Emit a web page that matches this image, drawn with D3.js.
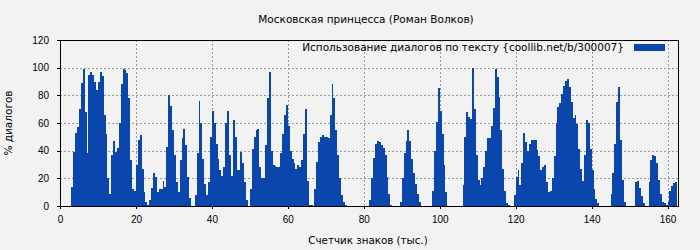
<!DOCTYPE html>
<html>
<head>
<meta charset="utf-8">
<script src="https://cdnjs.cloudflare.com/ajax/libs/d3/7.8.5/d3.min.js"></script>
<style>
body { margin: 0; background: #f2f2f2; }
svg { display: block; font-family: "DejaVu Sans", sans-serif; }
.axis path, .axis line { stroke: #000; shape-rendering: crispEdges; }
.axis text { font-size: 10px; fill: #000; }
.grid line { stroke: #9a9a9a; stroke-dasharray: 2,2; shape-rendering: crispEdges; }
.bar { fill: #0a46ac; shape-rendering: crispEdges; }
</style>
</head>
<body>
<script>
var chartTitle = "Московская принцесса (Роман Волков)";
var seriesName = "Использование диалогов по тексту {coollib.net/b/300007}";
var xTitle = "Счетчик знаков (тыс.)";
var yTitle = "% диалогов";
var xTicks = [0, 20, 40, 60, 80, 100, 120, 140, 160];
var yTicks = [0, 20, 40, 60, 80, 100, 120];

// each bar covers half a thousand characters, the first one starts at 3k
var firstK = 3;
var stepK = 0.5;
var dialogPct = [
  14, 39, 53, 57, 70, 89, 99, 68, 38, 95,
  97, 95, 90, 84, 90, 97, 94, 66, 52, 20,
  9, 37, 47, 39, 42, 60, 88, 99, 98, 96,
  78, 33, 12, 11, 30, 48, 51, 27, 10, 3,
  1, 4.5, 13, 24, 21, 10, 12, 12, 18, 14,
  43, 80, 72, 55, 37, 17, 10, 33, 49, 56,
  44, 21, 6, 0, 0, 8, 38, 76, 60, 34,
  16, 8, 17, 50, 69, 60, 45, 34, 26, 22,
  28, 60, 69, 37, 22, 62, 50, 26, 26, 39,
  31, 17, 4, 0, 12, 41, 50, 55, 56, 28,
  20, 20, 44, 78, 97, 40, 29.5, 29, 28, 28,
  38, 52, 66, 73, 58, 40, 34, 31, 27, 30,
  28, 33, 52, 70, 18, 1, 0.5, 0, 12, 32,
  46, 50, 51, 50, 50, 49, 66, 88, 78, 55,
  37, 20, 8, 3, 0.7, 0, 0, 0, 0, 0,
  0, 0, 0, 0, 0, 0, 0, 4, 20, 35,
  45, 47, 46, 44, 42, 37, 21, 9, 1, 0,
  0, 0, 0, 3, 20, 38, 47, 55, 47, 34,
  24, 16, 9, 3, 0, 0, 0, 0, 0, 0,
  11, 40, 61, 85, 69, 52, 30, 10, 0, 0,
  0, 0, 0, 0, 0, 0, 15, 50, 68, 64,
  63, 100, 70, 37, 19, 15.5, 20, 28, 40, 49,
  49.5, 58, 71, 99, 93, 79, 55, 27, 11, 2,
  0.7, 0.3, 0, 8, 21, 26, 15.5, 31, 53, 46,
  40, 44.5, 48, 47.5, 47.5, 40.5, 36, 26, 28.5, 30,
  17.5, 10, 11, 20, 36, 60, 71.5, 74.5, 81, 87,
  90.5, 92, 86, 75, 63.5, 66, 59, 41, 27, 18,
  37, 62, 60, 41, 26, 12, 5, 2, 0, 0,
  0, 0, 0, 0, 9, 24, 45, 75, 86, 48,
  19, 3, 0, 0, 0, 0, 0, 17, 18, 13,
  7, 2, 0, 0, 17, 33, 37, 36, 31, 19,
  9, 3, 2, 1, 3, 11, 14.5, 16.5, 17
];
var charK = dialogPct.map(function(d, i) { return firstK + i * stepK; });

var W = 700, H = 250;
var margin = {top: 40, right: 22, bottom: 44, left: 60};
var w = W - margin.left - margin.right,
    h = H - margin.top - margin.bottom;

var svg = d3.select("body").append("svg")
    .attr("width", W)
    .attr("height", H);

var x = d3.scaleLinear().domain([0, 162.75]).range([0, w]);
var y = d3.scaleLinear().domain([0, 120]).range([h, 0]);

var g = svg.append("g")
    .attr("transform", "translate(" + margin.left + "," + margin.top + ")");

// dashed grid
g.append("g").attr("class", "grid")
  .selectAll("line.h")
  .data(yTicks.filter(function(t) { return t > 0 && t < 120; }))
  .enter().append("line")
    .attr("x1", 0).attr("x2", w)
    .attr("y1", function(d) { return Math.round(y(d)) + 0.5; })
    .attr("y2", function(d) { return Math.round(y(d)) + 0.5; });

g.append("g").attr("class", "grid")
  .selectAll("line.v")
  .data(xTicks.filter(function(t) { return t > 0; }))
  .enter().append("line")
    .attr("y1", 0).attr("y2", h)
    .attr("x1", function(d) { return Math.round(x(d)) + 0.5; })
    .attr("x2", function(d) { return Math.round(x(d)) + 0.5; });

// bars on whole pixels so neighbours share edges
function px(k) { return Math.round(x(k)); }
g.selectAll("rect.bar")
    .data(dialogPct)
  .enter().append("rect")
    .attr("class", "bar")
    .attr("x", function(d, i) { return px(charK[i]); })
    .attr("width", function(d, i) { return px(charK[i] + stepK) - px(charK[i]); })
    .attr("y", function(d) { return Math.round(y(d)); })
    .attr("height", function(d) { return Math.round(y(0)) - Math.round(y(d)); });

// frame
g.append("rect")
    .attr("x", 0.5).attr("y", 0.5)
    .attr("width", w).attr("height", h)
    .attr("fill", "none")
    .attr("stroke", "#000")
    .style("shape-rendering", "crispEdges");

// axes
g.append("g")
    .attr("class", "axis")
    .call(d3.axisLeft(y).tickValues(yTicks).tickSize(3).tickSizeOuter(0).tickPadding(8));

g.append("g")
    .attr("class", "axis")
    .attr("transform", "translate(0," + h + ")")
    .call(d3.axisBottom(x).tickValues(xTicks).tickSize(3).tickSizeOuter(0).tickPadding(7));

// titles
svg.append("text")
    .attr("x", 366).attr("y", 23)
    .attr("text-anchor", "middle")
    .style("font-size", "10.5px")
    .text(chartTitle);

svg.append("text")
    .attr("x", 368).attr("y", 244)
    .attr("text-anchor", "middle")
    .style("font-size", "10.3px")
    .text(xTitle);

svg.append("text")
    .attr("transform", "translate(12," + (margin.top + h / 2) + ") rotate(-90)")
    .attr("text-anchor", "middle")
    .style("font-size", "10.5px")
    .text(yTitle);

// legend
svg.append("text")
    .attr("x", 624).attr("y", 51)
    .attr("text-anchor", "end")
    .style("font-size", "10.5px")
    .text(seriesName);

svg.append("rect")
    .attr("x", 634).attr("y", 44)
    .attr("width", 31).attr("height", 7)
    .attr("fill", "#0a46ac");
</script>
</body>
</html>
